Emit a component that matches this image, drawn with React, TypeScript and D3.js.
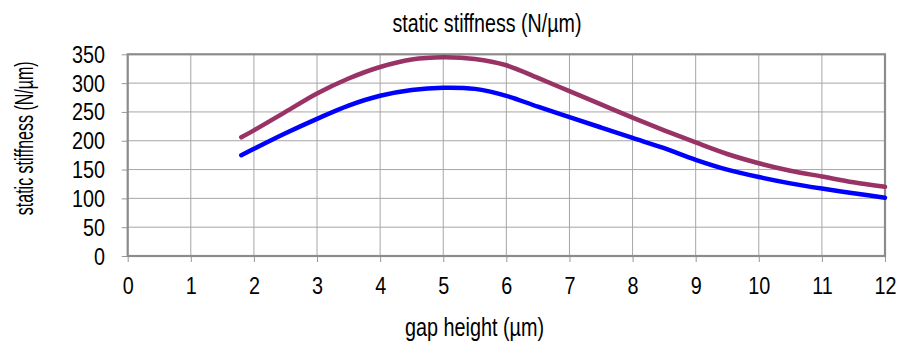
import { useEffect, useRef } from "react";
import * as d3 from "d3";

const gapHeights = [1.8, 2, 2.5, 3, 3.5, 4, 4.5, 5, 5.5, 6, 6.5, 7, 7.5, 8, 8.5, 9, 9.5, 10, 10.5, 11, 11.5, 12];
const stiffnessUpper = [206, 218, 250, 282, 308, 328, 341, 345, 342, 331, 309, 286, 263, 240, 218, 197, 177, 161, 148, 138, 128, 120];
const stiffnessLower = [175, 186, 213, 238, 261, 278, 288, 292, 290, 278, 259, 241, 223, 205, 187, 167, 150, 137, 126, 117, 109, 101];
const xTicks = [0, 1, 2, 3, 4, 5, 6, 7, 8, 9, 10, 11, 12];
const yTicks = [0, 50, 100, 150, 200, 250, 300, 350];

const FONT = "'Liberation Sans', Arial, sans-serif";
// reference text is tall and narrow, so glyphs get squeezed horizontally
const SQUEEZE = 0.86;

export default function App() {
  const ref = useRef<SVGSVGElement>(null);

  useEffect(() => {
    const svg = d3.select(ref.current);
    svg.selectAll("*").remove();

    const left = 127.7;
    const right = 885;
    const top = 54.3;
    const bottom = 256;

    const x = d3.scaleLinear().domain([0, 12]).range([left, right]);
    const y = d3.scaleLinear().domain([0, 350]).range([bottom, top]);

    // grid
    svg
      .append("g")
      .selectAll("line.v")
      .data(xTicks)
      .enter()
      .append("line")
      .attr("x1", (d) => x(d))
      .attr("x2", (d) => x(d))
      .attr("y1", top)
      .attr("y2", bottom)
      .attr("stroke", "#a6a6a6")
      .attr("stroke-width", 1);

    svg
      .append("g")
      .selectAll("line.h")
      .data(yTicks)
      .enter()
      .append("line")
      .attr("x1", left)
      .attr("x2", right)
      .attr("y1", (d) => y(d))
      .attr("y2", (d) => y(d))
      .attr("stroke", "#a6a6a6")
      .attr("stroke-width", 1);

    // axes
    const xAxis = svg
      .append("g")
      .attr("transform", `translate(0,${bottom})`)
      .call(d3.axisBottom(x).tickValues(xTicks).tickSize(6).tickSizeOuter(0).tickFormat(d3.format("d")));
    xAxis.select(".domain").remove();
    xAxis.selectAll("line").attr("stroke", "#999").attr("stroke-width", 1);
    xAxis
      .selectAll("text")
      .attr("y", 38)
      .attr("dy", null)
      .attr("transform", `scale(${SQUEEZE},1)`)
      .style("font-family", FONT)
      .style("font-size", "23px")
      .attr("fill", "#000");

    const yAxis = svg
      .append("g")
      .attr("transform", `translate(${left},0)`)
      .call(d3.axisLeft(y).tickValues(yTicks).tickSize(6).tickSizeOuter(0));
    yAxis.select(".domain").remove();
    yAxis.selectAll("line").attr("stroke", "#999").attr("stroke-width", 1);
    yAxis
      .selectAll("text")
      .attr("x", -22.7 / SQUEEZE)
      .attr("dy", "0.35em")
      .attr("transform", `scale(${SQUEEZE},1)`)
      .style("font-family", FONT)
      .style("font-size", "23px")
      .attr("fill", "#000");

    // plot border
    svg
      .append("rect")
      .attr("x", left)
      .attr("y", top)
      .attr("width", right - left)
      .attr("height", bottom - top)
      .attr("fill", "none")
      .attr("stroke", "#8c8c8c")
      .attr("stroke-width", 2.2);

    const line = d3
      .line<number>()
      .x((_, i) => x(gapHeights[i]))
      .y((d) => y(d))
      .curve(d3.curveCatmullRom.alpha(0.5));

    svg
      .append("path")
      .datum(stiffnessUpper)
      .attr("d", line)
      .attr("fill", "none")
      .attr("stroke", "#993366")
      .attr("stroke-width", 4.5)
      .attr("stroke-linecap", "round");

    svg
      .append("path")
      .datum(stiffnessLower)
      .attr("d", line)
      .attr("fill", "none")
      .attr("stroke", "#0000ff")
      .attr("stroke-width", 4.5)
      .attr("stroke-linecap", "round");

    // title
    svg
      .append("text")
      .attr("x", 487)
      .attr("y", 31.6)
      .attr("text-anchor", "middle")
      .attr("textLength", 189)
      .attr("lengthAdjust", "spacingAndGlyphs")
      .style("font-family", FONT)
      .style("font-size", "25px")
      .text("static stiffness (N/µm)");

    // x label
    svg
      .append("text")
      .attr("x", 474.5)
      .attr("y", 336.4)
      .attr("text-anchor", "middle")
      .attr("textLength", 139)
      .attr("lengthAdjust", "spacingAndGlyphs")
      .style("font-family", FONT)
      .style("font-size", "25px")
      .text("gap height (µm)");

    // y label (squeezed along its length to match the reference)
    svg
      .append("text")
      .attr("transform", "translate(33,138.3) rotate(-90) scale(0.64,1)")
      .attr("text-anchor", "middle")
      .style("font-family", FONT)
      .style("font-size", "25px")
      .text("static stiffness (N/µm)");
  }, []);

  return (
    <svg
      ref={ref}
      width={897}
      height={343}
      style={{ position: "absolute", left: 0, top: 0, background: "#fff" }}
    />
  );
}
